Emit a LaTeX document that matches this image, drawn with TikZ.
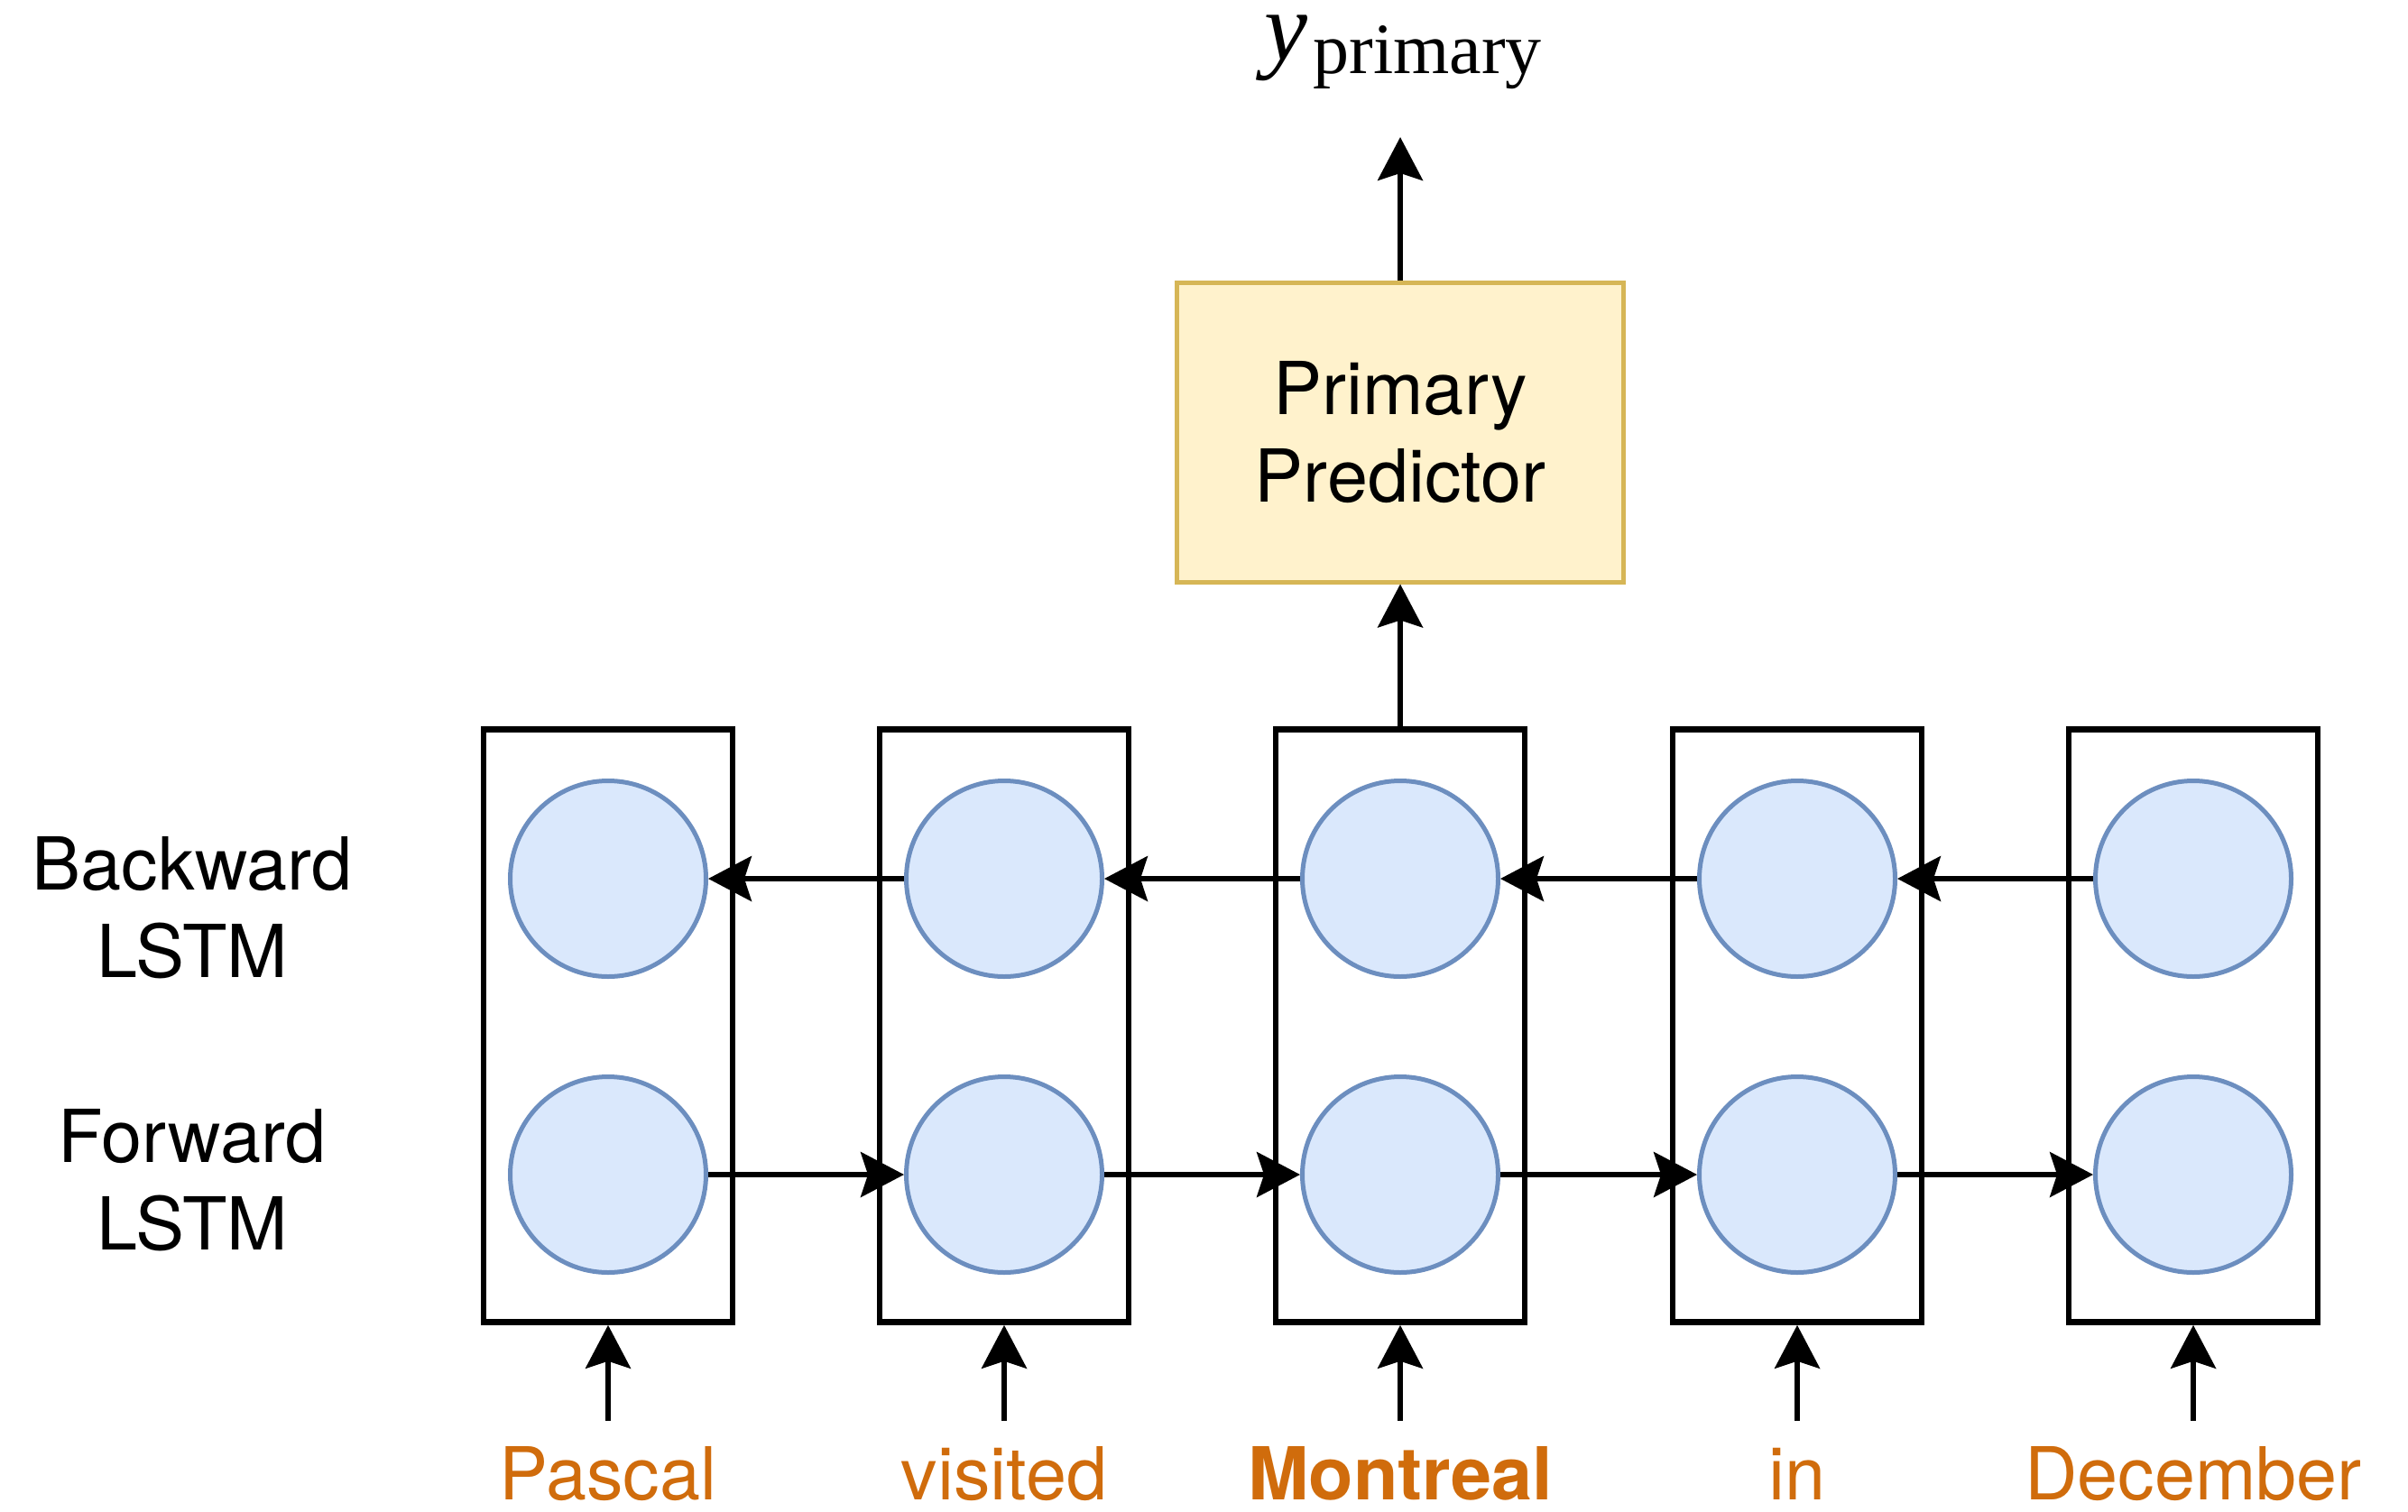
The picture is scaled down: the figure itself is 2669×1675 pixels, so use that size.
\documentclass[tikz,border=0pt]{standalone}
\usepackage{fontspec}
\setmainfont{TeX Gyre Heros}
\newfontfamily\timesfont{Liberation Serif}
\usetikzlibrary{arrows.meta}
\definecolor{cellfill}{HTML}{DAE8FC}
\definecolor{celldraw}{HTML}{6C8EBF}
\definecolor{predfill}{HTML}{FFF2CC}
\definecolor{preddraw}{HTML}{D6B656}
\definecolor{wordcol}{HTML}{D06C0C}
\begin{document}
\begin{tikzpicture}[x=0.5pt,y=-0.5pt,
  conn/.style={line width=2.7pt,-{Stealth[length=24pt,width=25pt,inset=4pt]}},
  colbox/.style={draw,line width=3.3pt,minimum width=138pt,minimum height=328.5pt,inner sep=0pt},
  cell/.style={circle,draw=celldraw,fill=cellfill,line width=2.5pt,minimum size=108.5pt,inner sep=0pt},
  pred/.style={draw=preddraw,fill=predfill,line width=2.5pt,minimum width=247.5pt,minimum height=166pt,
    inner sep=0pt,align=center,font=\fontsize{40.5pt}{48.5pt}\selectfont},
  lab/.style={inner sep=0pt,align=center,font=\fontsize{40.5pt}{48.5pt}\selectfont},
  word/.style={inner sep=0pt,anchor=base,text=wordcol,font=\fontsize{40.5pt}{48.5pt}\selectfont}]
\useasboundingbox (0,0) rectangle (2669,1675);

% output label and predictor
\node[anchor=base,inner sep=0pt,font=\timesfont] (yp) at (1555,67)
  {\fontsize{54pt}{56pt}\selectfont\itshape y\upshape\kern3pt\fontsize{40pt}{42pt}\selectfont\raisebox{-7.5pt}{primary}};
\coordinate (ytip) at (1552,152);
\node[pred] (pred) at (1552,479) {Primary\\Predictor};
\draw[conn] (pred.north) -- (ytip);

% row labels
\node[lab] (lb) at (213,1006) {Backward\\LSTM};
\node[lab] (lf) at (213,1308) {Forward\\LSTM};

% one column per token: frame, backward cell, forward cell, input arrow
\foreach \i/\x in {1/674,2/1113,3/1552,4/1992,5/2431}{
  \node[colbox] (c\i) at (\x,1137) {};
  \node[cell] (b\i) at (\x,974) {};
  \node[cell] (f\i) at (\x,1302) {};
  \coordinate (in\i) at (\x,1575);
  \draw[conn] (in\i) -- (c\i.south);
}

% recurrent connections
\foreach \i/\j in {1/2,2/3,3/4,4/5}{
  \draw[conn] (b\j.west) -- (b\i.east);
  \draw[conn] (f\i.east) -- (f\j.west);
}

\draw[conn] (c3.north) -- (pred.south);

% input tokens
\node[word] (w1) at (674,1662) {Pascal};
\node[word] (w2) at (1113,1662) {visited};
\node[word] (w3) at (1552,1662) {\bfseries Montreal};
\node[word] (w4) at (1992,1662) {in};
\node[word] (w5) at (2431,1662) {December};
\end{tikzpicture}
\end{document}
